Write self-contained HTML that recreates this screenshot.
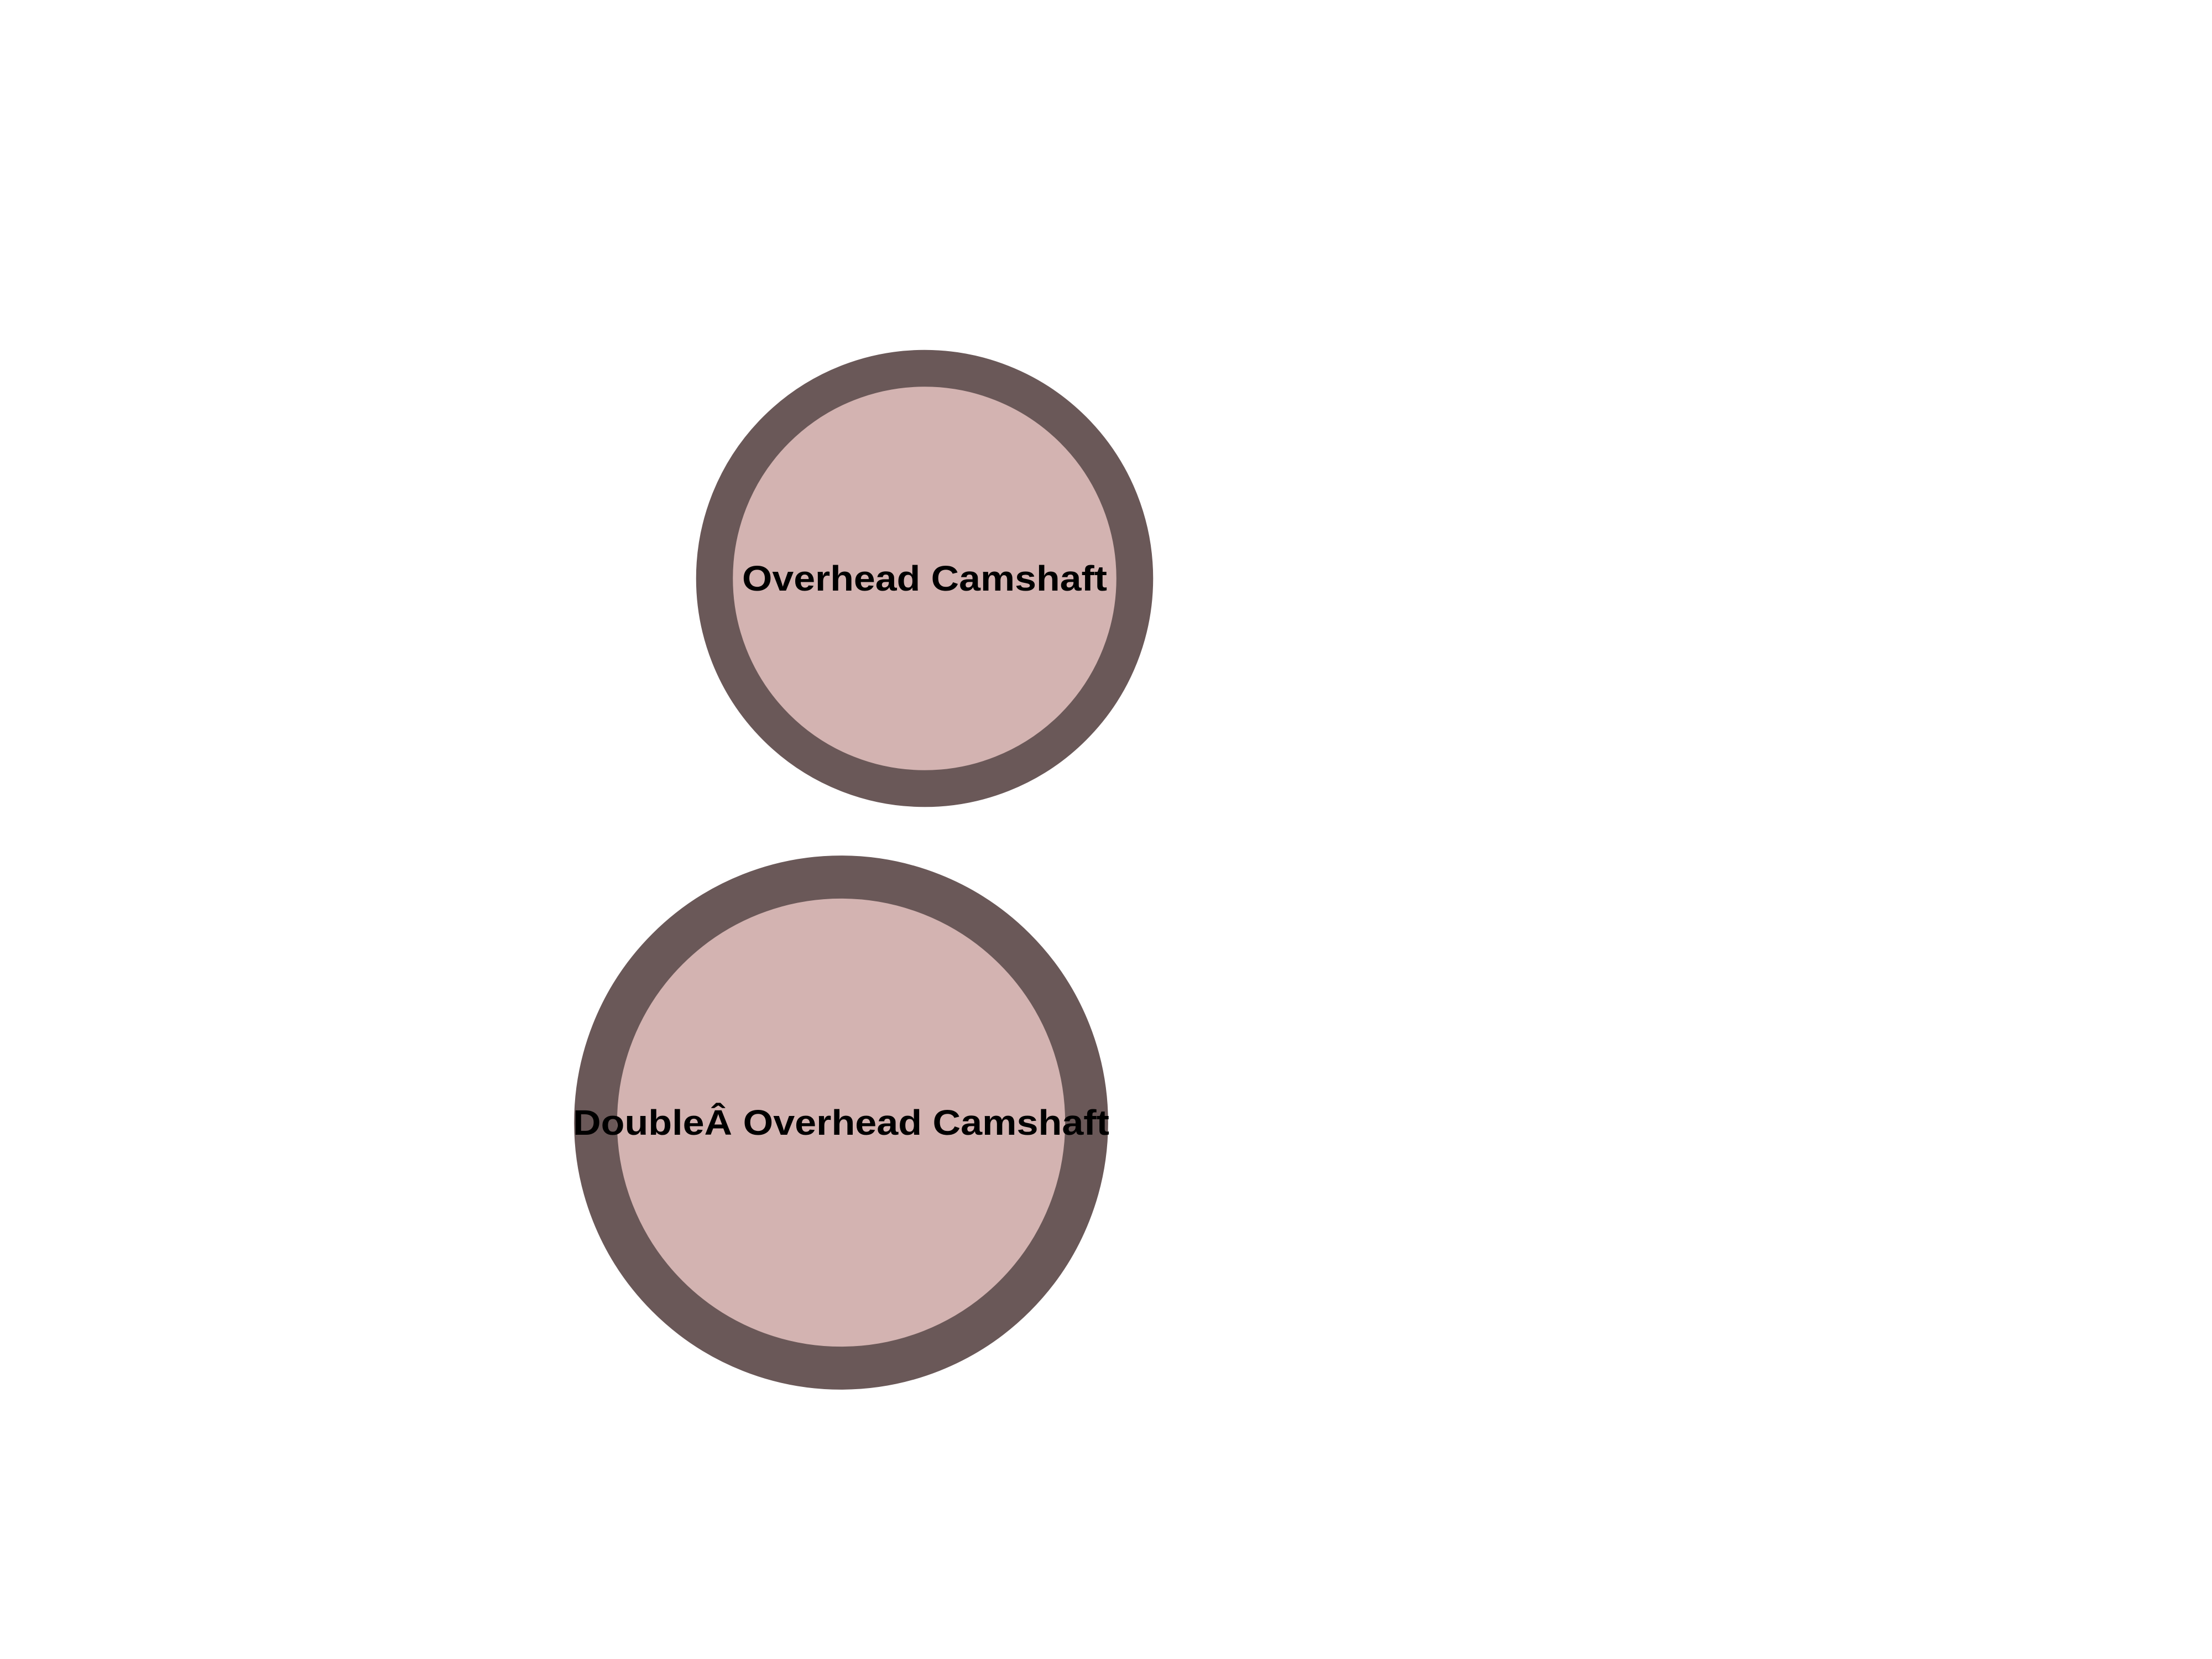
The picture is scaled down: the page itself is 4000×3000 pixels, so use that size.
<!DOCTYPE html>
<html>
<head>
<meta charset="utf-8">
<style>
html,body{margin:0;padding:0;background:#fff;}
svg{display:block;}
text{font-family:"Liberation Sans",Arial,sans-serif;font-weight:bold;}
</style>
</head>
<body>
<svg id="chart" width="4000" height="3000" viewBox="0 0 4000 3000" xmlns="http://www.w3.org/2000/svg">
<rect width="4000" height="3000" fill="#ffffff"/>
</svg>
<script>
const labels = ["Overhead Camshaft", "DoubleÂ Overhead Camshaft"];
const radii = [380, 444];
const centersX = [1672, 1521];
const centersY = [1046, 2030];
const labelWidths = [660, 970];

const svg = document.getElementById('chart');
const NS = 'http://www.w3.org/2000/svg';
const ringWidth = r => r * 0.175;

for (let i = 0; i < labels.length; i++) {
  const g = document.createElementNS(NS, 'g');
  
  
  const c = document.createElementNS(NS, 'circle');
  
  
  c.setAttribute('cx', centersX[i]);
  c.setAttribute('cy', centersY[i]);
  c.setAttribute('r', radii[i]);
  c.setAttribute('fill', '#d3b3b1');
  c.setAttribute('stroke', '#6a5858');
  c.setAttribute('stroke-width', ringWidth(radii[i]));
  g.appendChild(c);
  const t = document.createElementNS(NS, 'text');
  
  
  t.setAttribute('x', centersX[i]);
  t.setAttribute('y', centersY[i] + 22);
  t.setAttribute('text-anchor', 'middle');
  t.setAttribute('font-size', '64');
  t.setAttribute('fill', '#000');
  t.setAttribute('textLength', labelWidths[i]);
  t.setAttribute('lengthAdjust', 'spacingAndGlyphs');
  t.textContent = labels[i];
  g.appendChild(t);
  svg.appendChild(g);
}
</script>
</body>
</html>
